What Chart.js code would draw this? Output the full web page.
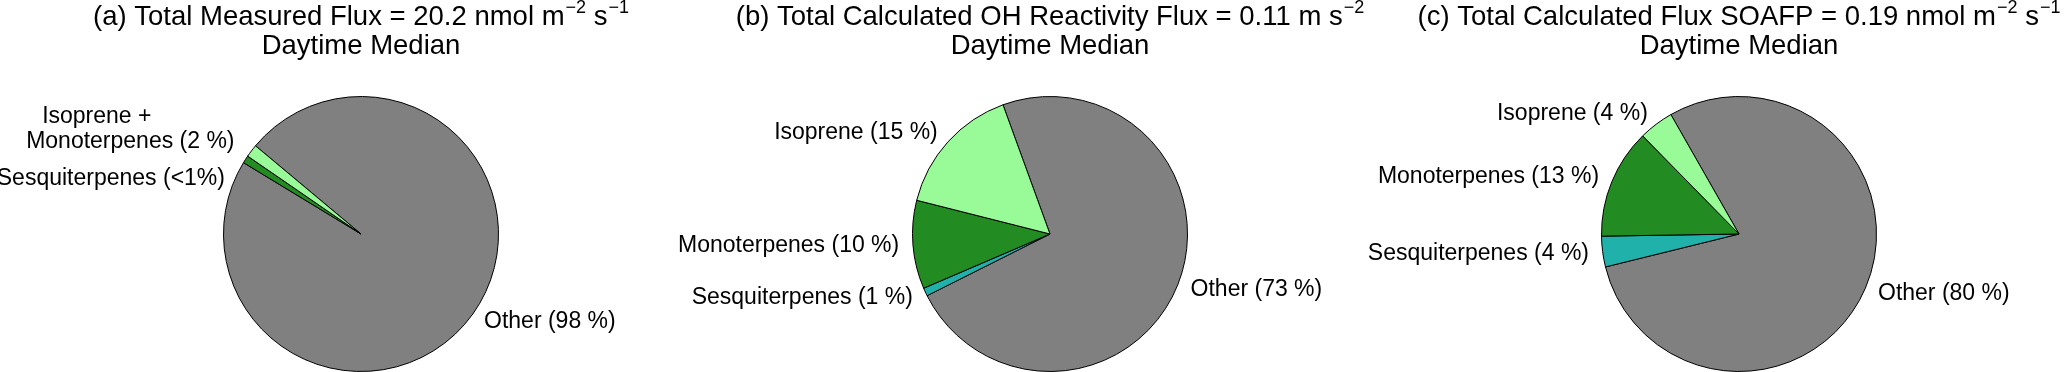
<!DOCTYPE html>
<html>
<head>
<meta charset="utf-8">
<script src="https://cdn.jsdelivr.net/npm/chart.js@4"></script>
<style>
  body { margin: 0; background: #fff; }
  #wrap { position: relative; width: 2067px; height: 372px; overflow: hidden; }
  #wrap canvas { position: absolute; left: 0; top: 0; }
</style>
</head>
<body>
<div id="wrap">
  <canvas id="pieA" width="2067" height="372"></canvas>
  <canvas id="pieB" width="2067" height="372"></canvas>
  <canvas id="pieC" width="2067" height="372"></canvas>
</div>
<script>
// categories
var catsA = ["Isoprene + Monoterpenes", "Sesquiterpenes", "Other"];
var catsBC = ["Isoprene", "Monoterpenes", "Sesquiterpenes", "Other"];

// shares in percent
var valsA = [1.5, 0.9, 97.6];
var valsB = [15.5, 10.4, 0.95, 73.15];
var valsC = [4.1, 12.9, 3.6, 79.4];

// slice labels as printed
var labelsA = ["Isoprene +\nMonoterpenes (2 %)", "Sesquiterpenes (<1%)", "Other (98 %)"];
var labelsB = ["Isoprene (15 %)", "Monoterpenes (10 %)", "Sesquiterpenes (1 %)", "Other (73 %)"];
var labelsC = ["Isoprene (4 %)", "Monoterpenes (13 %)", "Sesquiterpenes (4 %)", "Other (80 %)"];

var colorsA = ["#98FB98", "#228B22", "#808080"];
var colorsBC = ["#98FB98", "#228B22", "#20B2AA", "#808080"];

var FONT = "'Liberation Sans', Arial, sans-serif";
var PANEL_W = 689;

// title draws "text" with superscript pieces
function drawTitle(ctx, cx, parts, line2) {
  ctx.save();
  ctx.fillStyle = "#000";
  ctx.textBaseline = "alphabetic";
  ctx.textAlign = "left";
  var total = 0;
  parts.forEach(function (p) {
    ctx.font = (p.sup ? "18px " : "27.5px ") + FONT;
    p.w = ctx.measureText(p.t).width + (p.sup ? 1 : 0);
    total += p.w;
  });
  var x = cx - total / 2;
  parts.forEach(function (p) {
    ctx.font = (p.sup ? "18px " : "27.5px ") + FONT;
    ctx.fillText(p.t, x + (p.sup ? 1 : 0), p.sup ? 13 : 25);
    x += p.w;
  });
  ctx.font = "27.5px " + FONT;
  ctx.textAlign = "center";
  ctx.fillText(line2, cx, 54);
  ctx.restore();
}

var sliceLabels = {
  id: "sliceLabels",
  afterDatasetsDraw: function (chart, args, opts) {
    var ctx = chart.ctx;
    var meta = chart.getDatasetMeta(0);
    ctx.save();
    ctx.font = "23px " + FONT;
    ctx.fillStyle = "#000";
    ctx.textBaseline = "middle";
    meta.data.forEach(function (arc, i) {
      var p = arc.getProps(["x", "y", "startAngle", "endAngle", "outerRadius"], true);
      var mid = (p.startAngle + p.endAngle) / 2;
      var tx = p.x + Math.cos(mid) * p.outerRadius * 1.1;
      var ty = p.y + Math.sin(mid) * p.outerRadius * 1.1;
      var off = opts.offsets[i] || [0, 0];
      tx += off[0];
      ty += off[1];
      var lines = opts.texts[i].split("\n");
      var right = Math.cos(mid) < 0;
      var widths = lines.map(function (l) { return ctx.measureText(l).width; });
      var maxW = Math.max.apply(null, widths);
      var left = right ? tx - maxW : tx;
      var y0 = ty - (lines.length - 1) * 25 / 2;
      lines.forEach(function (l, k) {
        var indent = (opts.indent && lines.length > 1 && k === 0) ? opts.indent : 0;
        ctx.textAlign = "left";
        ctx.fillText(l, left + indent, y0 + k * 25);
      });
    });
    ctx.restore();
  }
};

var titleDraw = {
  id: "titleDraw",
  afterDraw: function (chart, args, opts) {
    var cx = (chart.chartArea.left + chart.chartArea.right) / 2;
    drawTitle(chart.ctx, cx, opts.parts, "Daytime Median");
  }
};

function makePie(id, k, cats, vals, colors, labels, rotation, offsets, indent, parts) {
  // matplotlib goes counter-clockwise, Chart.js clockwise, so reverse
  var r = function (a) { return a.slice().reverse(); };
  var padL = 223 + PANEL_W * k;
  new Chart(document.getElementById(id), {
    type: "pie",
    data: {
      labels: r(cats),
      datasets: [{
        data: r(vals),
        backgroundColor: r(colors),
        borderColor: "#000",
        borderWidth: 1
      }]
    },
    options: {
      responsive: false,
      animation: false,
      events: [],
      rotation: rotation,
      layout: { padding: { top: 96, left: padL, right: 2067 - padL - 276, bottom: 0 } },
      plugins: {
        legend: { display: false },
        tooltip: { enabled: false },
        title: { display: false },
        sliceLabels: { texts: r(labels), offsets: r(offsets), indent: indent },
        titleDraw: { parts: parts }
      }
    },
    plugins: [sliceLabels, titleDraw]
  });
}

makePie("pieA", 0, catsA, valsA, colorsA, labelsA, -50.1,
  [[-6, -13], [-9, 27], [0, 0]], 16,
  [{ t: "(a) Total Measured Flux = 20.2 nmol m" }, { t: "\u22122", sup: true },
   { t: " s" }, { t: "\u22121", sup: true }]);

makePie("pieB", 1, catsBC, valsB, colorsBC, labelsB, -20,
  [[0, 0], [0, 0], [0, 0], [0, 0]], 0,
  [{ t: "(b) Total Calculated OH Reactivity Flux = 0.11 m s" }, { t: "\u22122", sup: true }]);

makePie("pieC", 2, catsBC, valsC, colorsBC, labelsC, -29.7,
  [[0, 0], [0, 0], [0, 0], [0, 0]], 0,
  [{ t: "(c) Total Calculated Flux SOAFP = 0.19 nmol m" }, { t: "\u22122", sup: true },
   { t: " s" }, { t: "\u22121", sup: true }]);
</script>
</body>
</html>
